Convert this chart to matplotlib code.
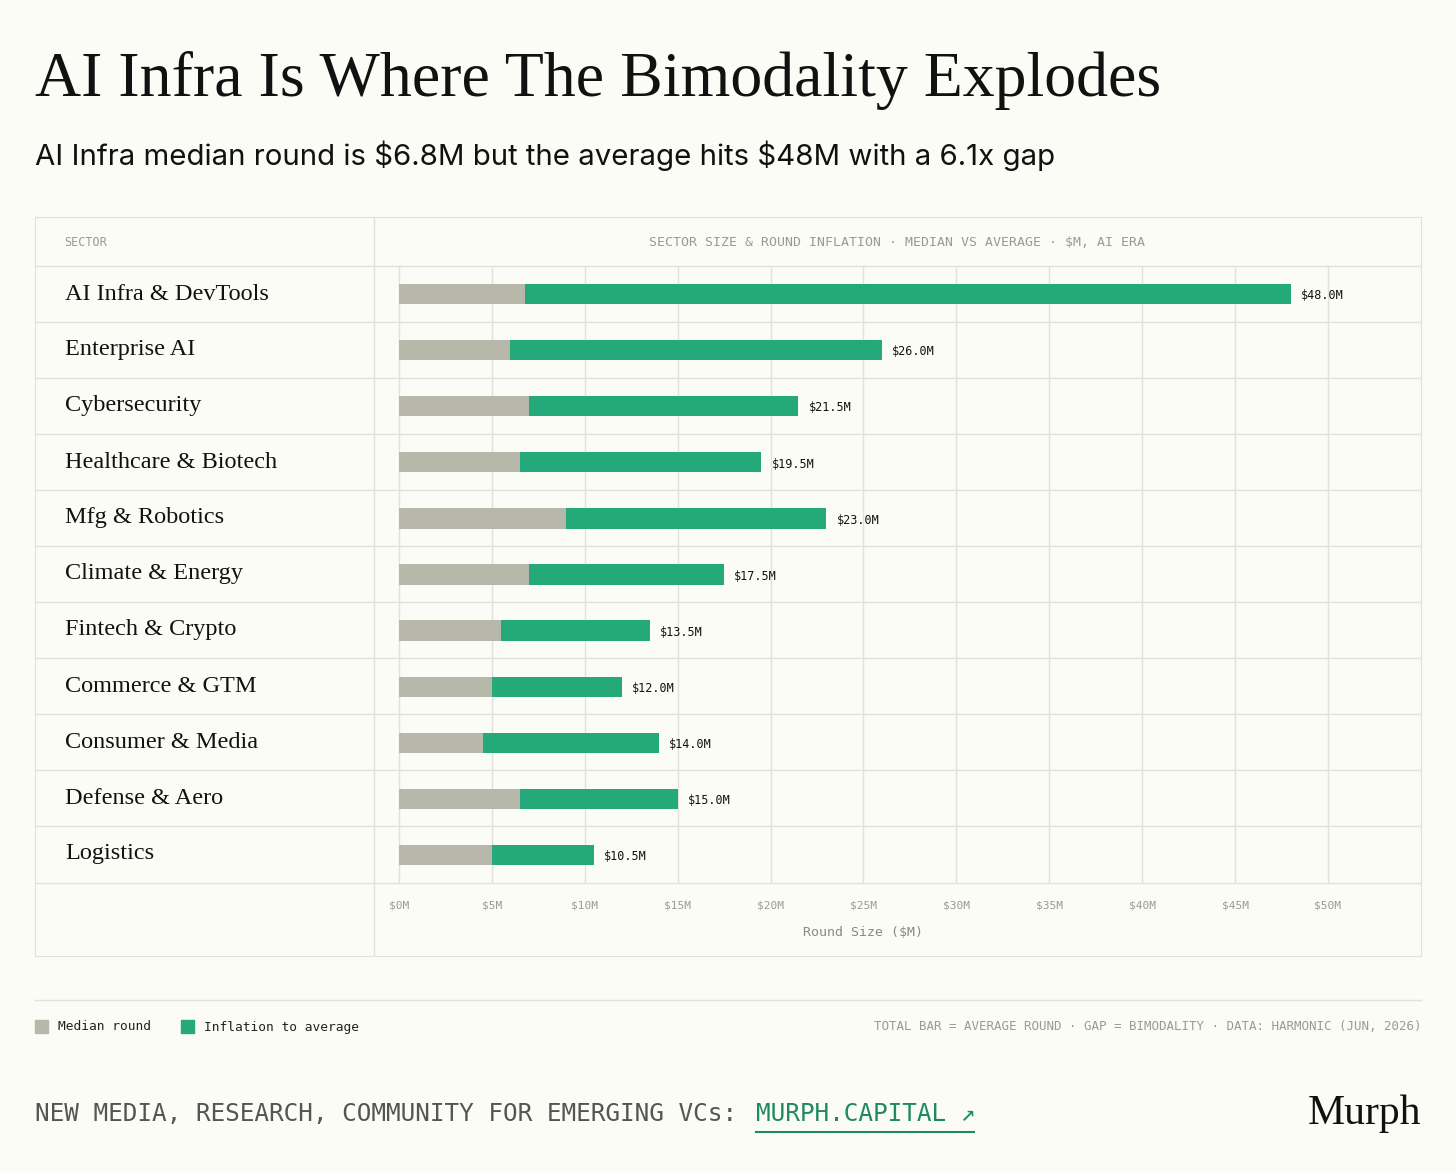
import matplotlib.pyplot as plt
import matplotlib.transforms as mtransforms
from matplotlib.patches import Rectangle
from matplotlib.lines import Line2D

plt.rcParams['text.parse_math'] = False

sectors = ['AI Infra & DevTools', 'Enterprise AI', 'Cybersecurity', 'Healthcare & Biotech',
           'Mfg & Robotics', 'Climate & Energy', 'Fintech & Crypto', 'Commerce & GTM',
           'Consumer & Media', 'Defense & Aero', 'Logistics']
median = [6.8, 6.0, 7.0, 6.5, 9.0, 7.0, 5.5, 5.0, 4.5, 6.5, 5.0]
average = [48.0, 26.0, 21.5, 19.5, 23.0, 17.5, 13.5, 12.0, 14.0, 15.0, 10.5]
ticks = list(range(0, 55, 5))

BG = '#fcfcf6'
GREEN = '#24a97b'
GRAY = '#b8b8aa'
LINE = '#e2e2dc'
W, H = 1456, 1172
serif = 'Liberation Serif'
mono = 'DejaVu Sans Mono'

fig = plt.figure(figsize=(W / 100, H / 100), dpi=100, facecolor=BG)

def fx(px): return px / W
def fy(py): return 1 - py / H

# titles
fig.text(fx(35), fy(80), 'AI Infra Is Where The Bimodality Explodes', family=serif,
         fontsize=46, va='center', color='#111')
fig.text(fx(35), fy(156), 'AI Infra median round is $6.8M but the average hits $48M with a 6.1x gap',
         family='Inter', fontsize=21.2, va='center', color='#111')

# table frame
frame = fig.add_axes([fx(35), fy(956), fx(1421 - 35), (956 - 217) / H])
frame.set_xlim(35, 1421); frame.set_ylim(956, 217)
frame.set_facecolor(BG)
for s in frame.spines.values():
    s.set_color(LINE)
frame.set_xticks([]); frame.set_yticks([])
frame.axvline(374, color=LINE, lw=1)
frame.axhline(266, color=LINE, lw=1)
frame.axhline(883, color=LINE, lw=1)
frame.text(64, 242, 'SECTOR', family=mono, fontsize=8.5, color='#999', va='center')
frame.text(897, 242, 'SECTOR SIZE & ROUND INFLATION · MEDIAN VS AVERAGE · $M, AI ERA',
           family=mono, fontsize=9.5, color='#999', va='center', ha='center')
for i, name in enumerate(sectors):
    yc = 266 + 56 * i + 28
    frame.text(65, yc, name, family=serif, fontsize=17.5, va='center', color='#111')
    if i > 0:
        frame.add_line(Line2D([35, 1421], [266 + 56 * i] * 2, color=LINE, lw=1))

# bar area
ax = fig.add_axes([fx(374), fy(883), fx(1421 - 374), (883 - 266) / H])
ax.set_facecolor('none')
ax.set_xlim(-25 / 18.58, (1421 - 399) / 18.58)
ax.set_ylim(len(sectors) - 0.5, -0.5)
for s in ax.spines.values():
    s.set_visible(False)
ax.set_xticks([]); ax.set_yticks([])
for t in ticks:
    ax.axvline(t, color=LINE, lw=1, zorder=0)
y = list(range(len(sectors)))
gap = [a - m for a, m in zip(average, median)]
ax.barh(y, median, height=0.36, color=GRAY, zorder=2)
ax.barh(y, gap, left=median, height=0.36, color=GREEN, zorder=2)
for yi, a in zip(y, average):
    ax.text(a + 0.55, yi + 0.03, f'${a:.1f}M', family=mono, fontsize=8.5, va='center', color='#111')

# tick labels under the plot area
trans = mtransforms.blended_transform_factory(ax.transData, fig.transFigure)
for t in ticks:
    fig.text(t, fy(905), f'${t}M', transform=trans, family=mono, fontsize=8,
             color='#999', ha='center', va='center')
fig.text(fx(863), fy(932), 'Round Size ($M)', family=mono, fontsize=9.5, color='#888',
         ha='center', va='center')

# legend row
fig.add_artist(Line2D([fx(35), fx(1421)], [fy(1000)] * 2, color=LINE, lw=1))
fig.add_artist(Rectangle((fx(35), fy(1033)), 13 / W, 13 / H, color=GRAY, transform=fig.transFigure))
fig.text(fx(58), fy(1027), 'Median round', family=mono, fontsize=9.3, va='center', color='#222')
fig.add_artist(Rectangle((fx(181), fy(1033)), 13 / W, 13 / H, color=GREEN, transform=fig.transFigure))
fig.text(fx(204), fy(1027), 'Inflation to average', family=mono, fontsize=9.3, va='center', color='#222')
fig.text(fx(1421), fy(1027), 'TOTAL BAR = AVERAGE ROUND · GAP = BIMODALITY · DATA: HARMONIC (JUN, 2026)',
         family=mono, fontsize=9, va='center', ha='right', color='#999')

# footer
fig.text(fx(35), fy(1114), 'NEW MEDIA, RESEARCH, COMMUNITY FOR EMERGING VCs:', family=mono,
         fontsize=17.6, va='center', color='#555')
fig.text(fx(756), fy(1114), 'MURPH.CAPITAL ↗', family=mono, fontsize=17.6, va='center', color='#1f8a5e')
fig.add_artist(Line2D([fx(756), fx(974)], [fy(1132)] * 2, color='#1f8a5e', lw=1.5))
fig.text(fx(1421), fy(1114), 'Murph', family=serif, fontsize=30, va='center', ha='right', color='#111')

fig.savefig('out.png', dpi=100, facecolor=BG)
